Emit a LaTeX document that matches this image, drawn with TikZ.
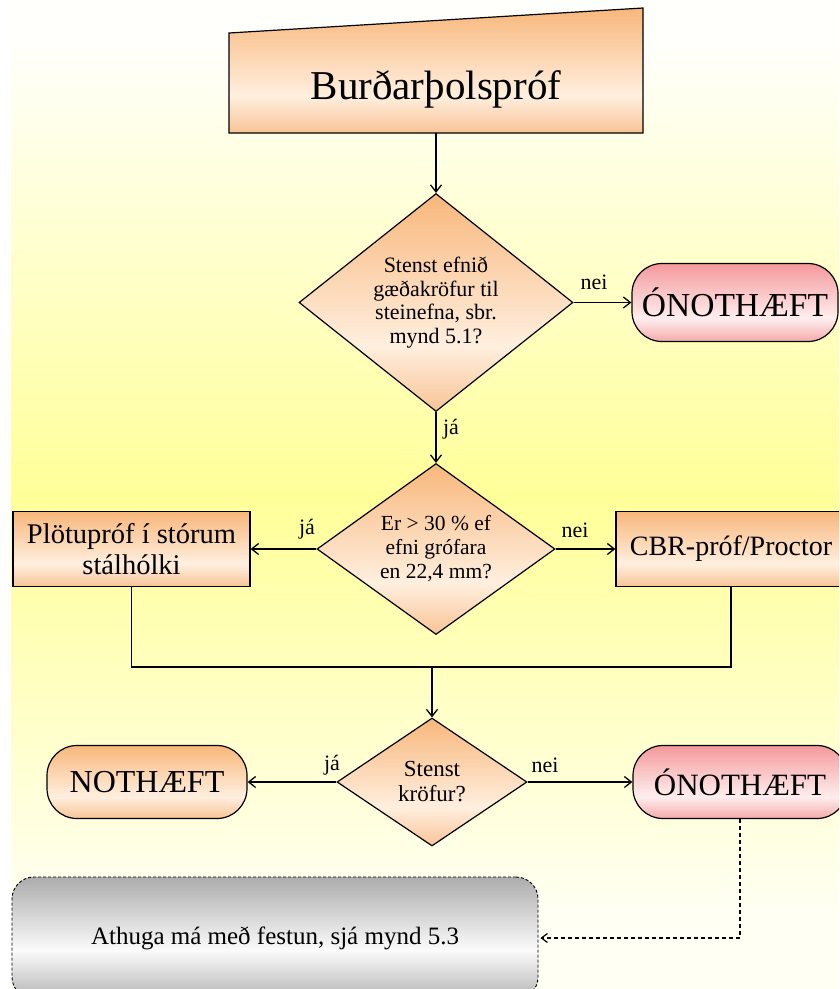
\documentclass[tikz,border=0pt]{standalone}
\usepackage{fontspec}
\setmainfont{Liberation Serif}
\usetikzlibrary{shapes.geometric,arrows.meta,calc}

\definecolor{bgT}{HTML}{FFFFFC}
\definecolor{bgY}{HTML}{FFFF99}
\definecolor{bgB}{HTML}{FFFFF4}
\definecolor{orT}{HTML}{F8B77B}
\definecolor{orL}{HTML}{FFEFDF}
\definecolor{orB}{HTML}{F8C496}
\definecolor{pkT}{HTML}{F4999B}
\definecolor{pkL}{HTML}{FFEEEE}
\definecolor{pkB}{HTML}{F5AAAA}
\definecolor{gyT}{HTML}{ACACAC}
\definecolor{gyL}{HTML}{FBFBFB}
\definecolor{gyB}{HTML}{B4B4B4}

\pgfdeclareverticalshading{bgshade}{100bp}{color(0bp)=(bgB); color(29bp)=(bgB); color(50bp)=(bgY); color(73bp)=(bgT); color(100bp)=(bgT)}
\pgfdeclareverticalshading{orshade}{100bp}{color(0bp)=(orB); color(25bp)=(orB); color(40bp)=(orL); color(75bp)=(orT); color(100bp)=(orT)}
\pgfdeclareverticalshading{pkshade}{100bp}{color(0bp)=(pkB); color(25bp)=(pkB); color(40bp)=(pkL); color(75bp)=(pkT); color(100bp)=(pkT)}
\pgfdeclareverticalshading{gyshade}{100bp}{color(0bp)=(gyB); color(25bp)=(gyB); color(45bp)=(gyL); color(75bp)=(gyT); color(100bp)=(gyT)}

\tikzset{
  box/.style={rectangle, draw=black, line width=1.2pt, shading=orshade, inner sep=0pt, align=center},
  term/.style={rectangle, rounded corners=30pt, draw=black, line width=1.2pt, inner sep=0pt, align=center},
  dec/.style={diamond, draw=black, line width=1.2pt, shading=orshade, inner sep=0pt, align=center},
  conn/.style={line width=1.3pt, -{Straight Barb[length=7pt,width=11pt]}},
  plain/.style={line width=1.3pt},
  dconn/.style={line width=1.2pt, dash pattern=on 4pt off 3pt, -{Straight Barb[length=6pt,width=9pt]}},
  lbl/.style={font=\fontsize{22}{24}\selectfont, inner sep=0pt},
}

\begin{document}
\begin{tikzpicture}[x=1pt,y=-1pt]
\useasboundingbox (0,0) rectangle (839,989);
\clip (0,0) rectangle (839,989);
\path[shading=bgshade] (11,0) rectangle (850,995);

% top manual-input shape
\path[draw=black, line width=1.2pt, shading=orshade] (229,33) -- (643,8) -- (643,133) -- (229,133) -- cycle;
\node[font=\fontsize{41}{46}\selectfont, minimum width=414pt, minimum height=88pt, inner sep=0pt] (top) at (436,89) {Burðarþolspróf};

% decisions
\node[dec, minimum width=274pt, minimum height=218pt, aspect=1.26, font=\fontsize{22}{23.5}\selectfont] (d1) at (436,302.5) {Stenst efnið\\gæðakröfur til\\steinefna, sbr.\\mynd 5.1?};
\node[dec, minimum width=238pt, minimum height=171pt, aspect=1.39, font=\fontsize{21.5}{24}\selectfont] (d2) at (436,549) {Er > 30 \% ef\\efni grófara\\en 22,4 mm?};
\node[dec, minimum width=190pt, minimum height=128pt, aspect=1.48, font=\fontsize{23}{25}\selectfont] (d3) at (432,782) {Stenst\\kröfur?};

% terminators and boxes
\node[term, shading=pkshade, minimum width=206pt, minimum height=78pt, font=\fontsize{33.5}{37}\selectfont] (on1) at (735,302.5) {ÓNOTHÆFT};
\node[box, minimum width=237pt, minimum height=75pt, font=\fontsize{28.5}{31}\selectfont] (plo) at (131.5,549) {Plötupróf í stórum\\stálhólki};
\node[box, minimum width=230pt, minimum height=75pt, font=\fontsize{28}{32}\selectfont] (cbr) at (731,549) {CBR-próf/Proctor};
\node[term, shading=orshade, minimum width=200pt, minimum height=73pt, font=\fontsize{32}{35}\selectfont] (not) at (147,782) {NOTHÆFT};
\node[term, shading=pkshade, minimum width=214pt, minimum height=73pt, font=\fontsize{31}{35}\selectfont] (on2) at (740,782) {ÓNOTHÆFT};
\node[rectangle, rounded corners=22pt, draw=black, line width=0.9pt, dash pattern=on 3pt off 2pt, shading=gyshade, minimum width=526pt, minimum height=122pt, inner sep=0pt, font=\fontsize{25}{29}\selectfont] (note) at (275,938) {Athuga má með festun, sjá mynd 5.3};

% connectors
\coordinate (m) at (432,667);
\draw[conn] (top.south) -- (d1.north);
\draw[conn] (d1.east) -- (on1.west);
\draw[conn] (d1.south) -- (d2.north);
\draw[conn] (d2.west) -- (plo.east);
\draw[conn] (d2.east) -- (cbr.west);
\draw[plain] (plo.south) |- (m);
\draw[plain] (cbr.south) |- (m);
\draw[conn] (m) -- (d3.north);
\draw[conn] (d3.west) -- (not.east);
\draw[conn] (d3.east) -- (on2.west);
\draw[dconn, shorten >=2pt] (on2.south) |- (note.east);

% labels
\node[lbl] (l1) at (594,282) {nei};
\node[lbl] (l2) at (451,429) {já};
\node[lbl] (l3) at (307,529) {já};
\node[lbl] (l4) at (575,530) {nei};
\node[lbl] (l5) at (332,765) {já};
\node[lbl] (l6) at (545,765) {nei};
\end{tikzpicture}
\end{document}
